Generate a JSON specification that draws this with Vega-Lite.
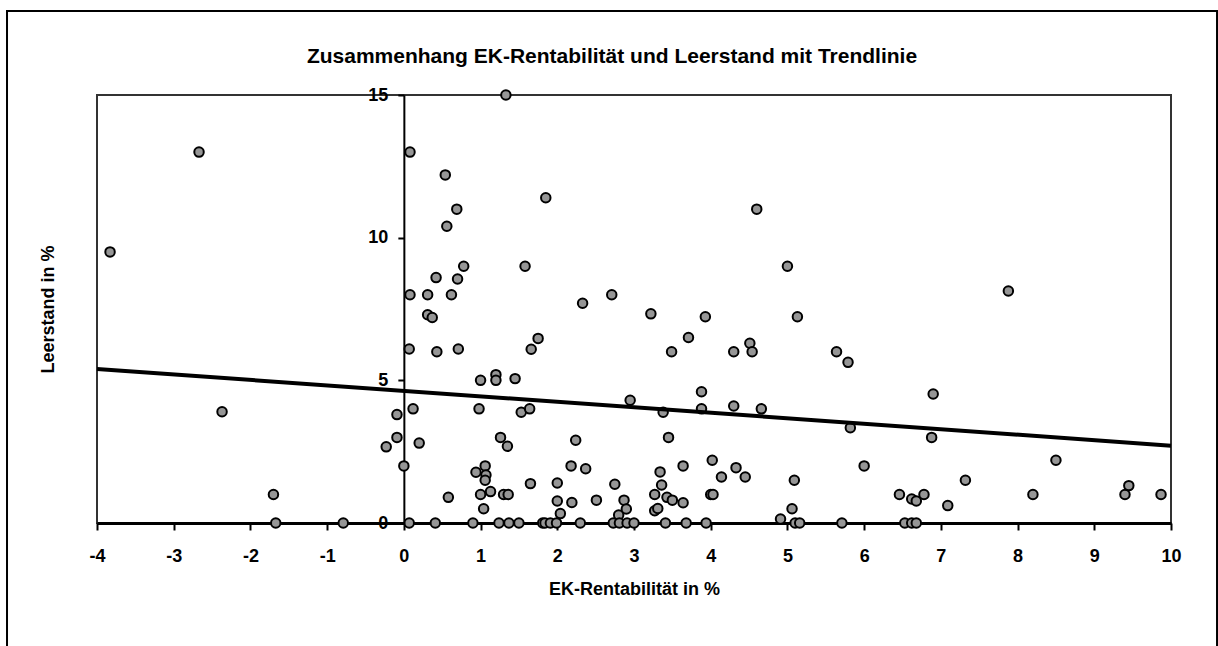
{
  "$schema": "https://vega.github.io/schema/vega-lite/v6.json",
  "width": 1074,
  "height": 428,
  "autosize": {"type": "none"},
  "padding": {"left": 97, "top": 95, "right": 47, "bottom": 123},
  "background": "white",
  "title": {
    "text": "Zusammenhang EK-Rentabilität und Leerstand mit Trendlinie",
    "font": "Liberation Sans",
    "fontSize": 21,
    "fontWeight": "bold",
    "color": "black",
    "anchor": "middle",
    "frame": "group",
    "baseline": "alphabetic",
    "offset": 0,
    "dy": 74,
    "dx": -22
  },
  "config": {
    "view": {"stroke": "#333333", "strokeWidth": 2},
    "axis": {
      "labelFont": "Liberation Sans",
      "labelFontSize": 18,
      "labelFontWeight": "bold",
      "labelColor": "black",
      "titleFont": "Liberation Sans",
      "titleFontSize": 18,
      "titleFontWeight": "bold",
      "titleColor": "black",
      "domainColor": "black",
      "tickColor": "black",
      "grid": false
    }
  },
  "datasets": {
    "punkte": [
      {"ek": -3.83, "leer": 9.5}, {"ek": -2.67, "leer": 13.0}, {"ek": -2.37, "leer": 3.9},
      {"ek": -1.7, "leer": 1.0}, {"ek": -1.67, "leer": 0}, {"ek": -0.79, "leer": 0},
      {"ek": -0.23, "leer": 2.67}, {"ek": -0.09, "leer": 3.8}, {"ek": -0.09, "leer": 3.0},
      {"ek": 0.0, "leer": 2.0},
      {"ek": 0.08, "leer": 13.0}, {"ek": 0.08, "leer": 8.0}, {"ek": 0.07, "leer": 6.1},
      {"ek": 0.07, "leer": 0}, {"ek": 0.12, "leer": 4.0}, {"ek": 0.2, "leer": 2.8},
      {"ek": 0.31, "leer": 8.0}, {"ek": 0.31, "leer": 7.3}, {"ek": 0.37, "leer": 7.2},
      {"ek": 0.42, "leer": 8.6}, {"ek": 0.43, "leer": 6.0}, {"ek": 0.41, "leer": 0},
      {"ek": 0.54, "leer": 12.2}, {"ek": 0.56, "leer": 10.4}, {"ek": 0.58, "leer": 0.9},
      {"ek": 0.62, "leer": 8.0}, {"ek": 0.69, "leer": 11.0}, {"ek": 0.7, "leer": 8.55},
      {"ek": 0.71, "leer": 6.1}, {"ek": 0.78, "leer": 9.0}, {"ek": 0.9, "leer": 0},
      {"ek": 0.94, "leer": 1.78}, {"ek": 0.98, "leer": 4.0}, {"ek": 1.0, "leer": 5.0},
      {"ek": 1.0, "leer": 1.0},
      {"ek": 1.06, "leer": 2.0}, {"ek": 1.07, "leer": 1.68}, {"ek": 1.06, "leer": 1.5},
      {"ek": 1.04, "leer": 0.5}, {"ek": 1.13, "leer": 1.1}, {"ek": 1.2, "leer": 5.2},
      {"ek": 1.2, "leer": 5.0}, {"ek": 1.24, "leer": 0}, {"ek": 1.26, "leer": 3.0},
      {"ek": 1.3, "leer": 1.0}, {"ek": 1.36, "leer": 1.0}, {"ek": 1.33, "leer": 15.0},
      {"ek": 1.35, "leer": 2.69}, {"ek": 1.37, "leer": 0}, {"ek": 1.45, "leer": 5.06},
      {"ek": 1.5, "leer": 0}, {"ek": 1.53, "leer": 3.88}, {"ek": 1.58, "leer": 9.0},
      {"ek": 1.64, "leer": 4.0}, {"ek": 1.65, "leer": 1.38}, {"ek": 1.66, "leer": 6.09},
      {"ek": 1.75, "leer": 6.47}, {"ek": 1.81, "leer": 0}, {"ek": 1.84, "leer": 0},
      {"ek": 1.85, "leer": 11.4}, {"ek": 1.91, "leer": 0}, {"ek": 1.99, "leer": 0},
      {"ek": 2.0, "leer": 1.4}, {"ek": 2.0, "leer": 0.77}, {"ek": 2.04, "leer": 0.33},
      {"ek": 2.18, "leer": 2.0}, {"ek": 2.19, "leer": 0.72}, {"ek": 2.24, "leer": 2.9},
      {"ek": 2.3, "leer": 0}, {"ek": 2.33, "leer": 7.7}, {"ek": 2.37, "leer": 1.9},
      {"ek": 2.51, "leer": 0.8}, {"ek": 2.71, "leer": 8.0}, {"ek": 2.73, "leer": 0},
      {"ek": 2.75, "leer": 1.36}, {"ek": 2.8, "leer": 0.28}, {"ek": 2.81, "leer": 0},
      {"ek": 2.87, "leer": 0.8}, {"ek": 2.9, "leer": 0.49}, {"ek": 2.91, "leer": 0},
      {"ek": 2.95, "leer": 4.3}, {"ek": 3.0, "leer": 0},
      {"ek": 3.22, "leer": 7.33}, {"ek": 3.27, "leer": 1.0}, {"ek": 3.27, "leer": 0.43},
      {"ek": 3.31, "leer": 0.51}, {"ek": 3.34, "leer": 1.79}, {"ek": 3.36, "leer": 1.33},
      {"ek": 3.38, "leer": 3.88}, {"ek": 3.41, "leer": 0}, {"ek": 3.43, "leer": 0.9},
      {"ek": 3.45, "leer": 3.0}, {"ek": 3.49, "leer": 6.0}, {"ek": 3.5, "leer": 0.8},
      {"ek": 3.64, "leer": 2.0}, {"ek": 3.64, "leer": 0.71}, {"ek": 3.68, "leer": 0},
      {"ek": 3.71, "leer": 6.5}, {"ek": 3.88, "leer": 4.6}, {"ek": 3.88, "leer": 4.0},
      {"ek": 3.93, "leer": 7.23}, {"ek": 3.94, "leer": 0},
      {"ek": 4.0, "leer": 1.0}, {"ek": 4.03, "leer": 1.0}, {"ek": 4.02, "leer": 2.2},
      {"ek": 4.14, "leer": 1.61}, {"ek": 4.3, "leer": 6.0}, {"ek": 4.3, "leer": 4.1},
      {"ek": 4.33, "leer": 1.94}, {"ek": 4.45, "leer": 1.61}, {"ek": 4.51, "leer": 6.3},
      {"ek": 4.54, "leer": 6.0}, {"ek": 4.6, "leer": 11.0}, {"ek": 4.66, "leer": 4.0},
      {"ek": 4.91, "leer": 0.14}, {"ek": 5.0, "leer": 9.0}, {"ek": 5.06, "leer": 0.5},
      {"ek": 5.09, "leer": 1.5}, {"ek": 5.1, "leer": 0}, {"ek": 5.16, "leer": 0},
      {"ek": 5.13, "leer": 7.23}, {"ek": 5.64, "leer": 6.0}, {"ek": 5.71, "leer": 0},
      {"ek": 5.79, "leer": 5.63}, {"ek": 5.82, "leer": 3.34}, {"ek": 6.0, "leer": 2.0},
      {"ek": 6.46, "leer": 1.0}, {"ek": 6.53, "leer": 0}, {"ek": 6.62, "leer": 0.84},
      {"ek": 6.68, "leer": 0.77}, {"ek": 6.62, "leer": 0}, {"ek": 6.68, "leer": 0},
      {"ek": 6.78, "leer": 1.0}, {"ek": 6.88, "leer": 3.0}, {"ek": 6.9, "leer": 4.52},
      {"ek": 7.09, "leer": 0.61}, {"ek": 7.32, "leer": 1.5}, {"ek": 7.88, "leer": 8.13},
      {"ek": 8.2, "leer": 1.0}, {"ek": 8.5, "leer": 2.2}, {"ek": 9.4, "leer": 1.0},
      {"ek": 9.45, "leer": 1.31}, {"ek": 9.87, "leer": 1.0}
    ],
    "trend": [
      {"ek": -4, "leer": 5.4},
      {"ek": 10, "leer": 2.71}
    ],
    "rahmen": [{"teil": "Diagrammrahmen"}]
  },
  "layer": [
    {
      "data": {"name": "rahmen"},
      "mark": {"type": "rect", "fill": null, "fillOpacity": 0, "stroke": "black", "strokeWidth": 2, "clip": false},
      "encoding": {
        "x": {"datum": -5.173, "type": "quantitative"},
        "x2": {"datum": 10.6},
        "y": {"datum": 17.944, "type": "quantitative"},
        "y2": {"datum": -5}
      }
    },
    {
      "data": {"name": "punkte"},
      "mark": {"type": "point", "shape": "circle", "filled": true, "fill": "#969696", "stroke": "black", "strokeWidth": 2, "size": 90, "opacity": 1},
      "encoding": {
        "x": {
          "field": "ek", "type": "quantitative",
          "scale": {"domain": [-4, 10], "nice": false, "zero": false},
          "axis": {
            "orient": "bottom",
            "title": "EK-Rentabilität in %",
            "values": [-4, -3, -2, -1, 0, 1, 2, 3, 4, 5, 6, 7, 8, 9, 10],
            "labelExpr": "'' + datum.value",
            "domainWidth": 3,
            "tickSize": 7,
            "tickWidth": 2,
            "labelPadding": 17,
            "titlePadding": 15,
            "labelFlush": false
          }
        },
        "y": {
          "field": "leer", "type": "quantitative",
          "scale": {"domain": [0, 15], "nice": false, "zero": false},
          "axis": {
            "orient": "left",
            "offset": -306.86,
            "title": "Leerstand in %",
            "values": [0, 5, 10, 15],
            "labelExpr": "'' + datum.value",
            "domainWidth": 2,
            "tickSize": 6,
            "tickWidth": 2,
            "labelPadding": 10,
            "labelFlush": false,
            "titleX": -355.86,
            "titleY": 214,
            "titleAngle": 270,
            "titleAlign": "center",
            "titleBaseline": "middle"
          }
        }
      }
    },
    {
      "data": {"name": "trend"},
      "mark": {"type": "line", "color": "black", "strokeWidth": 4},
      "encoding": {
        "x": {"field": "ek", "type": "quantitative"},
        "y": {"field": "leer", "type": "quantitative"}
      }
    }
  ]
}
